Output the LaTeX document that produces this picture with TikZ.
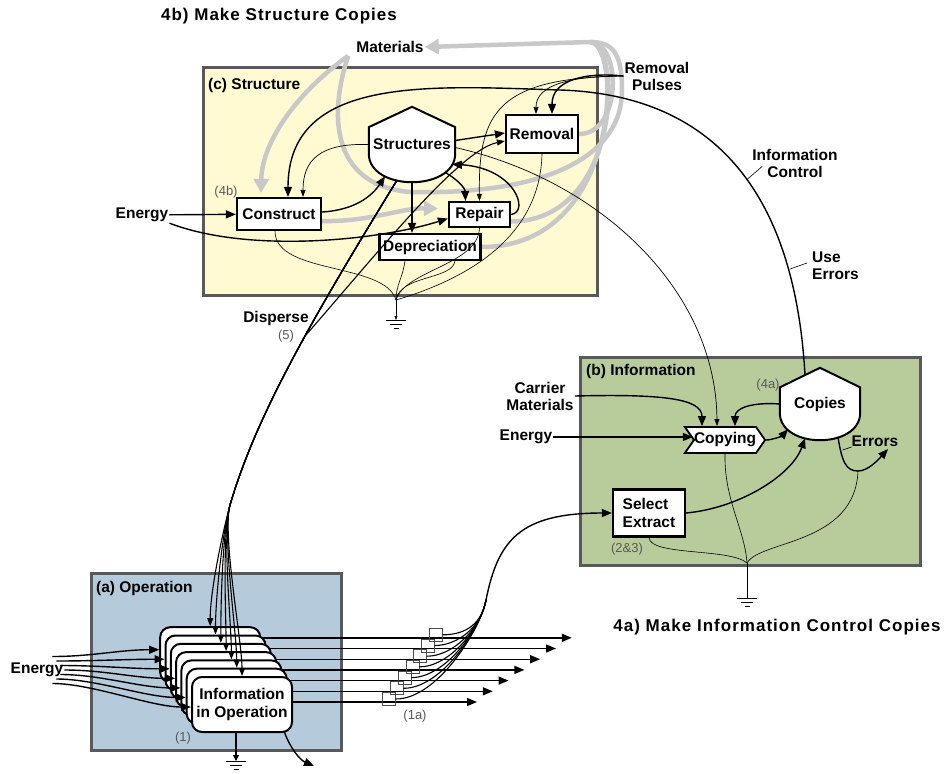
\documentclass[tikz,border=0pt]{standalone}
\usepackage{fontspec}
\setmainfont{Liberation Sans}
\usetikzlibrary{calc,arrows.meta,shapes.symbols,positioning}
\pgfdeclarelayer{bg}
\pgfdeclarelayer{mid}
\pgfsetlayers{bg,mid,main}
\definecolor{strfill}{HTML}{FFFAD2}
\definecolor{inffill}{HTML}{B7CB9B}
\definecolor{opfill}{HTML}{B5CADA}
\definecolor{framegray}{HTML}{595959}
\definecolor{matgray}{HTML}{C8C8C8}
% storage tank outline round a node
\newcommand{\tankpath}[1]{%
  \draw[tankline] ($(#1.north west)!0.27!(#1.south west)$) -- (#1.north)
    -- ($(#1.north east)!0.27!(#1.south east)$) -- ($(#1.north east)!0.62!(#1.south east)$)
    .. controls ($(#1.north east)!1.127!(#1.south east)$) and ($(#1.north west)!1.127!(#1.south west)$)
    .. ($(#1.north west)!0.62!(#1.south west)$) -- cycle;}
\tikzset{
  lbl/.style={font=\bfseries\fontsize{15.5}{17}\selectfont, inner sep=1pt},
  numtag/.style={font=\fontsize{13}{15}\selectfont, text=black!65, inner sep=1pt},
  ttl/.style={font=\bfseries\fontsize{17}{19}\selectfont\addfontfeatures{LetterSpace=6}},
  regionbox/.style={draw=framegray, line width=3pt},
  unitbox/.style={draw, line width=2.2pt, fill=white, font=\bfseries\fontsize{15.5}{18}\selectfont, inner sep=2pt},
  opbox/.style={draw, line width=2pt, fill=white, rounded corners=10pt, minimum width=100pt,
    minimum height=55pt, font=\bfseries\fontsize{15.5}{18}\selectfont, align=center},
  signalbox/.style={shape=signal, signal to=east, signal from=west, signal pointer angle=110,
    draw, line width=1.8pt, fill=white, font=\bfseries\fontsize{15.5}{17}\selectfont,
    minimum width=76pt, minimum height=26pt, inner xsep=0pt, inner ysep=1pt},
  tankbox/.style={font=\bfseries\fontsize{15.5}{17}\selectfont, inner sep=0pt},
  tankline/.style={draw, line width=2pt, fill=white},
  sqbox/.style={draw=black!70, line width=0.7pt, minimum size=13pt, inner sep=0pt},
  flow/.style={line width=1.4pt, -{Triangle[length=10pt,width=8pt]}},
  flowb/.style={line width=1.1pt, -{Triangle[length=8pt,width=6pt]}},
  thinflow/.style={line width=0.7pt, -{Triangle[length=7pt,width=5pt]}},
  link/.style={line width=1.1pt},
  heatline/.style={line width=0.6pt},
  mat/.style={line width=4.5pt, draw=matgray},
  matflow/.style={mat, -{Triangle[length=14pt,width=15pt]}},
  earth/.pic={\draw[line width=0.9pt] (-10,0) -- (10,0) (-6,4) -- (6,4) (-2.5,8) -- (2.5,8);}
}
\begin{document}
\begin{tikzpicture}[x=1pt,y=-1pt]
\useasboundingbox (0,0) rectangle (946,774);

% regions
\begin{pgfonlayer}{bg}
  \draw[regionbox, fill=strfill] (203,67) rectangle (597,295);
  \draw[regionbox, fill=inffill] (580,357) rectangle (920,565);
  \draw[regionbox, fill=opfill] (91,573) rectangle (341,750);
\end{pgfonlayer}

\node[ttl] (ttlb) at (279,16) {4b) Make Structure Copies};
\node[ttl] (ttla) at (777,627) {4a) Make Information Control Copies};
\node[lbl, anchor=west] (regc) at (207,85) {(c) Structure};
\node[lbl, anchor=west] (regb) at (585,371) {(b) Information};
\node[lbl, anchor=west] (rega) at (95,588) {(a) Operation};

% ---- (c) structure
\node[tankbox, minimum width=86pt, minimum height=75pt] (strc) at (412,144.5) {Structures};
\node[unitbox, minimum width=84pt, minimum height=32pt] (cons) at (279,214) {Construct};
\node[unitbox, minimum width=61pt, minimum height=25pt] (repr) at (479.5,214.5) {Repair};
\node[unitbox, minimum width=72pt, minimum height=38pt] (rmvl) at (542,134) {Removal};
\node[unitbox, minimum width=101pt, minimum height=26pt] (depr) at (430,247) {Depreciation};
\node[lbl] (mtl) at (390,47) {Materials};
\node[lbl, align=center] (rpls) at (657,76) {Removal\\Pulses};
\node[lbl] (engs) at (142,215) {Energy};
\node[numtag] (t4b) at (226,192) {(4b)};
\node[lbl] (dspl) at (276,318) {Disperse};
\node[numtag] (t5) at (286,336) {(5)};
\node[lbl, align=center] (ictl) at (795,163) {Information\\Control};
\node[lbl, align=left, anchor=west] (uerr) at (811,266) {Use\\Errors};
\draw[heatline] ($(ictl.south west)+(-4,1)$) -- ($(ictl.south west)+(11,-12)$);
\draw[heatline] ($(uerr.west)+(-21,3)$) -- ($(uerr.west)+(-4,-3)$);

% materials (grey)
\coordinate (gtop) at (590,42);
\begin{pgfonlayer}{mid}
  \draw[matflow] (gtop) -- (mtl.east);
  \draw[mat] (rmvl.east) .. controls (622,134) and (622,42) .. (gtop);
  \draw[mat] ($(repr.east)+(0,7)$) .. controls (622,221) and (622,42) .. (gtop);
  \draw[mat] (depr.east) .. controls (622,247) and (622,42) .. (gtop);
  \draw[mat] ($(mtl.south west)+(-7,2)$) .. controls (330,110) and (328,185) .. (410,192)
    .. controls (540,195) and (622,160) .. (622,90) .. controls (622,52) and (612,42) .. (gtop);
  \draw[matflow] ($(mtl.south west)+(-7,2)$) .. controls (300,90) and (262,140) .. ($(cons.north)+(-18,-4)$);
  \draw[matflow] ($(cons.east)+(0,7)$) .. controls (370,222) and (400,208) .. ($(repr.west)+(-10,-6)$);
  \tankpath{strc}
\end{pgfonlayer}

\draw[flow] (engs) -- (cons);
\draw[flow] (engs.south east) .. controls (250,254) and (380,240) .. ([yshift=-4pt]repr.west);
\draw[flow] ([yshift=2pt]cons.east) .. controls (355,210) and (372,196) .. ($(strc.south)+(-27,-6)$);
\draw[thinflow] (strc.west) .. controls (320,143) and (303,160) .. ($(cons.north)+(24,0)$);
\draw[flow] ([yshift=4pt]strc.east) -- ([yshift=1pt]rmvl.west);
\draw[flow] ($(strc.south)+(33,-10)$) .. controls (458,180) and (465,188) .. ($(repr.north)+(-14,0)$);
\draw[flow] (repr.east) .. controls (530,212) and (515,168) .. ($(strc.south)+(40,-18)$);
\draw[flow] (strc.south) -- (strc.south |- depr.north);
\draw[flow] (rpls.west) .. controls (585,72) and (552,80) .. ($(rmvl.north)+(10,0)$);
\draw[thinflow] (rpls.west) .. controls (570,76) and (536,85) .. ($(rmvl.north)+(-6,0)$);
\draw[thinflow] (rpls.west) .. controls (500,78) and (478,110) .. (repr.north);

% heat sink of structure
\coordinate (gs) at (396,300);
\coordinate (gse) at (396,320);
\draw[heatline] ($(cons.south)+(-4,0)$) .. controls (275,275) and (385,262) .. (gs);
\draw[heatline] ($(depr.south)+(-25,0)$) .. controls (402,280) and (396,285) .. (gs);
\draw[heatline] ($(depr.south)+(25,0)$) .. controls (452,280) and (400,275) .. (gs);
\draw[heatline] (repr.south) .. controls (478,265) and (405,270) .. (gs);
\draw[heatline] (rmvl.south) .. controls (540,230) and (480,275) .. (gs);
\draw[heatline, -{Triangle[length=4pt,width=3pt]}] (gs) -- (gse);
\pic at (gse) {earth};

% ---- (b) information
\node[tankbox, minimum width=80pt, minimum height=72pt] (cps) at (820,404) {Copies};
\begin{pgfonlayer}{mid}\tankpath{cps}\end{pgfonlayer}
\node[signalbox] (cpy) at (725,440) {Copying};
\node[unitbox, align=left, minimum width=72pt, minimum height=47pt] (sel) at (649,513) {Select\\Extract};
\node[lbl, align=center] (carm) at (540,396) {Carrier\\Materials};
\node[lbl] (engi) at (526,437) {Energy};
\node[numtag] (t4a) at (768,385) {(4a)};
\node[numtag] (t23) at (627,549) {(2\&3)};
\node[lbl] (errl) at (875,441) {Errors};

\draw[flow] (carm.east) .. controls (660,394) and (702,398) .. ($(cpy.north)+(-23,0)$);
\draw[flow] (engi.east) -- (engi.east -| cpy.west);
\draw[flow] (cps.west) .. controls (752,402) and (735,408) .. ($(cpy.north)+(10,0)$);
\draw[flow] (cpy.east) .. controls (772,440) and (782,436) .. ($(cps.south)+(-32,-11)$);
\draw[flow] (sel.east) .. controls (740,508) and (792,475) .. ($(cps.south)+(-15,-2)$);
\draw[thinflow] ($(strc.east)+(0,3)$) .. controls (600,180) and (716,290) .. ($(cpy.north)+(-8,0)$);
\draw[flow] ($(cps.north)+(-15,7)$) .. controls (795,200) and (720,95) .. (560,90)
  .. controls (430,86) and (288,75) .. ($(cons.north)+(9,0)$);
\coordinate (errmid) at (858,471);
\coordinate (errend) at (888,449);
\draw[flow] ($(cps.south)+(18,-3)$) .. controls (842,462) and (846,471) .. (errmid)
  .. controls (868,471) and (878,460) .. (errend);
\draw[heatline] ($(errl.west)+(1,6)$) -- ($(errl.west)+(-8,9)$);

\coordinate (gi) at (747,563);
\coordinate (gie) at (747,598);
\draw[heatline] (sel.south) .. controls (650,556) and (730,548) .. (gi);
\draw[heatline] (cpy.south) .. controls (724,500) and (745,530) .. (gi);
\draw[heatline] (errmid) .. controls (855,545) and (760,540) .. (gi);
\draw[heatline] (gi) -- (gie);
\pic at (gie) {earth};

% ---- (a) operation
\foreach \k in {6,5,...,1}
  \node[opbox] (op\k) at ({242-5.3*\k},{704.5-8.3*\k}) {};
\node[opbox] (op0) at (242,704.5) {Information\\in Operation};
\node[lbl] (engo) at (37,670) {Energy};
\node[numtag] (t1) at (183,738) {(1)};
\node[numtag] (t1a) at (415,716) {(1a)};

\coordinate (jn) at (486,600);
\coordinate (bnd) at (230,505);
\foreach \k in {0,...,6} {
  \pgfmathsetmacro{\ly}{702-10.7*\k}
  \coordinate (out\k) at ({477+15.8*\k},\ly);
  \node[sqbox] (sq\k) at ({389+7.8*\k},{\ly-3}) {};
  \draw[link] (sq\k.east) .. controls +({42-4*\k},0) and (481,628) .. (jn);
  \draw[flow] ($(engo.east)+({-4*abs(\k-3)},{-4.5*(\k-3)})$) .. controls +(40,0) and +(-40,0)
    .. ($(op\k.west)+(0,{2.5-1.25*\k})$);
  \draw[flowb] ($(strc.south)+(-15,-2)$) .. controls (305,330) and (255,420) .. (bnd)
    .. controls (222,535) and ($(op\k.north)+(0,-35)$) .. (op\k.north);
}
\begin{pgfonlayer}{bg}
  \foreach \k in {0,...,6}
    \draw[flow] (op\k.east |- out\k) -- (out\k);
\end{pgfonlayer}
\draw[flow] (jn) .. controls (498,540) and (520,513) .. (sel.west);

\coordinate (dsp) at (306,335);
\draw[flowb] (dsp) .. controls (380,250) and (460,150) .. ([yshift=-7pt]rmvl.west);

\coordinate (goe) at (236,761);
\coordinate (opo) at (314,766);
\draw[link, -{Triangle[length=6pt,width=6pt]}] ($(op0.south)+(-6,0)$) -- (goe);
\pic at (goe) {earth};
\draw[flow] ($(op0.south east)+(-9,-2)$) .. controls (290,748) and (300,760) .. (opo);
\end{tikzpicture}
\end{document}
